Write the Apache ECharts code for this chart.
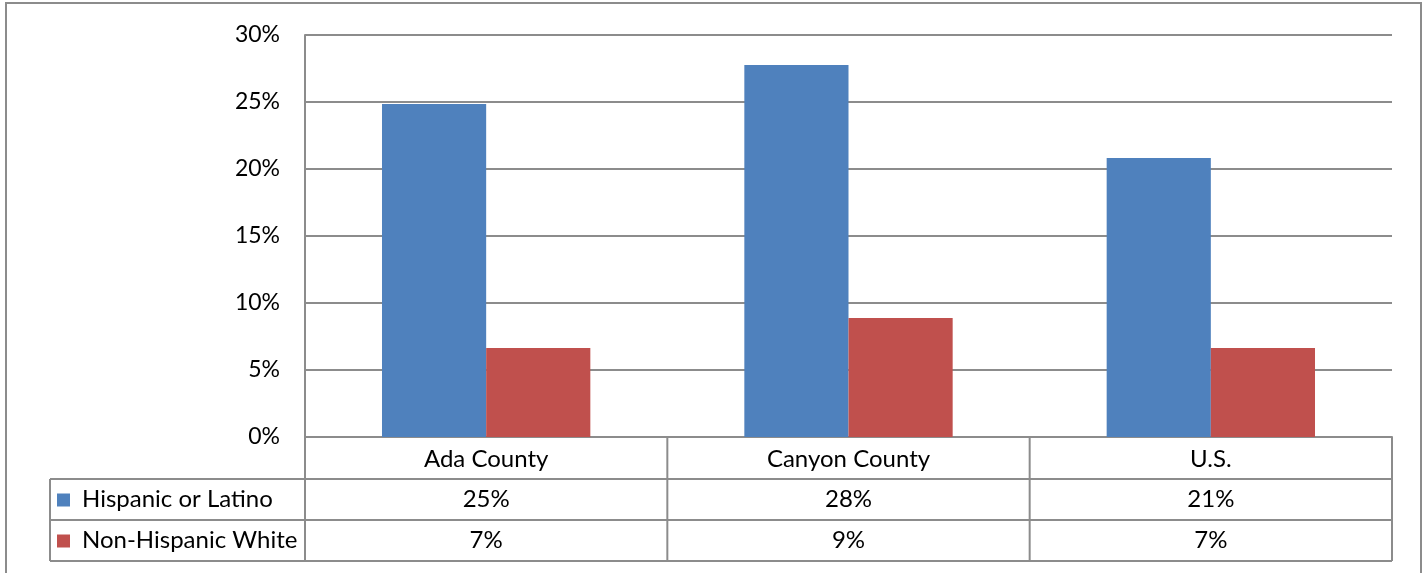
<!DOCTYPE html>
<html>
<head>
<meta charset="utf-8">
<script src="https://cdn.jsdelivr.net/npm/echarts@6/dist/echarts.min.js"></script>
<style>
  html, body { margin: 0; padding: 0; background: #fff; }
  #chart { width: 1428px; height: 573px; }
</style>
</head>
<body>
<div id="chart"></div>
<script>
var categories = ['Ada County', 'Canyon County', 'U.S.'];
var seriesNames = ['Hispanic or Latino', 'Non-Hispanic White'];
var hispanic = [24.85, 27.76, 20.82];
var nonHispWhite = [6.64, 8.88, 6.64];
var yTicks = [0, 5, 10, 15, 20, 25, 30];

var colors = ['#4F81BD', '#C0504D'];
var lineColor = '#8c8c8c';
var font = 'Lato';

var chartDom = document.getElementById('chart');
var myChart = echarts.init(chartDom);

// plot area (pixels)
var plotLeft = 305, plotRight = 1392, plotTop = 35, plotBottom = 437;
var rowTops = [437, 479, 520, 561];
var tableLeft = 50;

function buildTable() {
  var els = [];
  var colW = (plotRight - plotLeft) / categories.length;
  // horizontal lines
  for (var r = 1; r < rowTops.length; r++) {
    els.push({ type: 'line', shape: { x1: tableLeft, y1: rowTops[r], x2: plotRight, y2: rowTops[r] },
      style: { stroke: lineColor, lineWidth: 2 } });
  }
  // vertical lines
  els.push({ type: 'line', shape: { x1: tableLeft, y1: rowTops[1], x2: tableLeft, y2: rowTops[3] },
    style: { stroke: lineColor, lineWidth: 2 } });
  for (var c = 0; c <= categories.length; c++) {
    var x = plotLeft + c * colW;
    els.push({ type: 'line', shape: { x1: x, y1: rowTops[0], x2: x, y2: rowTops[3] },
      style: { stroke: lineColor, lineWidth: 2 } });
  }
  // series rows
  var rows = [hispanic, nonHispWhite];
  for (var s = 0; s < rows.length; s++) {
    var cy = (rowTops[s + 1] + rowTops[s + 2]) / 2;
    els.push({ type: 'rect', shape: { x: 57, y: cy - 6, width: 13, height: 13 },
      style: { fill: colors[s] } });
    els.push({ type: 'text', x: 82, y: cy,
      style: { text: seriesNames[s], font: '24px ' + font, fill: '#000', textAlign: 'left', textVerticalAlign: 'middle' } });
    for (var k = 0; k < categories.length; k++) {
      els.push({ type: 'text', x: plotLeft + (k + 0.5) * colW, y: cy,
        style: { text: Math.round(rows[s][k]) + '%', font: '24px ' + font, fill: '#000', textAlign: 'center', textVerticalAlign: 'middle' } });
    }
  }
  // outer frame
  els.push({ type: 'rect', shape: { x: 6, y: 3, width: 1415, height: 620 },
    style: { fill: 'none', stroke: lineColor, lineWidth: 2 } });
  return els;
}

var option = {
  animation: false,
  backgroundColor: '#fff',
  grid: {
    left: plotLeft,
    right: 1428 - plotRight,
    top: plotTop,
    bottom: 573 - plotBottom
  },
  xAxis: {
    type: 'category',
    data: categories,
    axisLine: { lineStyle: { color: lineColor, width: 2 } },
    axisTick: { show: false },
    axisLabel: { color: '#000', fontFamily: font, fontSize: 24, margin: 10 }
  },
  yAxis: {
    type: 'value',
    min: yTicks[0],
    max: yTicks[yTicks.length - 1],
    interval: 5,
    axisLine: { show: true, lineStyle: { color: lineColor, width: 2 } },
    axisTick: { show: false },
    splitLine: { lineStyle: { color: lineColor, width: 2 } },
    axisLabel: { color: '#000', fontFamily: font, fontSize: 23, margin: 25,
      formatter: function (v) { return v + '%'; } }
  },
  series: [
    { name: seriesNames[0], type: 'bar', data: hispanic, barGap: '0%', barCategoryGap: '42.5%',
      itemStyle: { color: colors[0] } },
    { name: seriesNames[1], type: 'bar', data: nonHispWhite, barGap: '0%', barCategoryGap: '42.5%',
      itemStyle: { color: colors[1] } }
  ],
  graphic: buildTable()
};

option && myChart.setOption(option);
</script>
</body>
</html>
